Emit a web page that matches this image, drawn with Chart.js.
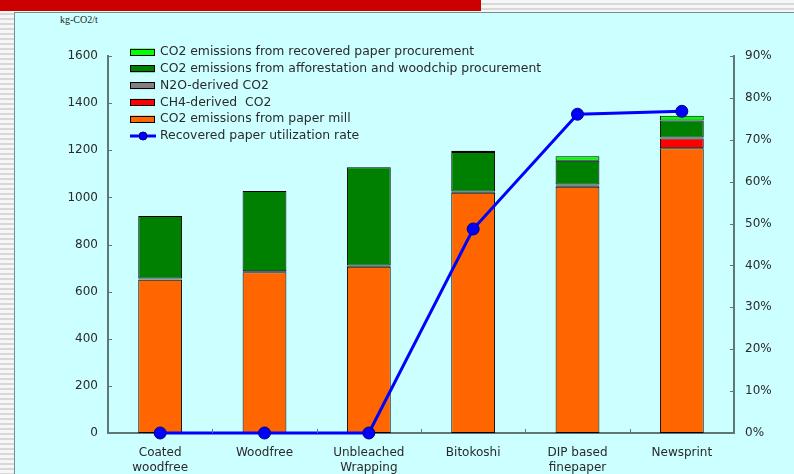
<!DOCTYPE html>
<html>
<head>
<meta charset="utf-8">
<script src="https://cdn.jsdelivr.net/npm/chart.js@4"></script>
<style>
  html, body { margin: 0; padding: 0; }
  body {
    width: 794px; height: 474px; position: relative; overflow: hidden;
    background: repeating-linear-gradient(to bottom, #f6f6f6 0px, #f6f6f6 3px, #d8d8d8 3px, #d8d8d8 5px);
  }
  #topbar { position: absolute; left: 0; top: 0; width: 481px; height: 11px; background: #cc0000; }
  #panel {
    position: absolute; left: 14px; top: 12px; right: 0; bottom: 0;
    background: #ccffff; border-left: 1px solid #7a8c8c; border-top: 1px solid #7a8c8c;
  }
  #unit {
    position: absolute; left: 60px; top: 14px;
    font-family: "Liberation Serif", "DejaVu Serif", serif; font-size: 10px; color: #222;
  }
  #wrap { position: absolute; left: 0; top: 0; width: 794px; height: 474px; }
</style>
</head>
<body>
<div id="topbar"></div>
<div id="panel"></div>
<div id="unit">kg-CO2/t</div>
<div id="wrap"><canvas id="chart" width="794" height="474"></canvas></div>
<script>
// Paper grades on the category axis
const categories = [['Coated', 'woodfree'], 'Woodfree', ['Unbleached', 'Wrapping'], 'Bitokoshi', ['DIP based', 'finepaper'], 'Newsprint'];

// Emission components, kg-CO2 per tonne of paper
const paperMill = [650, 682, 706, 1020, 1045, 1208];
const ch4Derived = [2, 0, 0, 0, 5, 42];
const n2oDerived = [4, 4, 5, 5, 5, 4];
const afforestation = [265, 341, 417, 168, 100, 72];
const recoveredPaper = [0, 0, 0, 5, 20, 20];

// Recovered paper utilization rate, %
const utilizationRate = [0, 0, 0, 48.7, 76.1, 76.8];

// Axis ticks
const emissionTicks = [0, 200, 400, 600, 800, 1000, 1200, 1400, 1600];
const rateTicks = [0, 10, 20, 30, 40, 50, 60, 70, 80, 90];

const AXIS_COLOR = '#5f7676';
const TEXT_COLOR = '#2a2a2a';
const FONT = '"DejaVu Sans", Verdana, sans-serif';

function barSet(label, data, color) {
  return {
    type: 'bar', label, data, backgroundColor: color,
    borderColor: '#000', borderWidth: 1, borderSkipped: false, yAxisID: 'y', stack: 'total',
    barPercentage: 0.42, categoryPercentage: 1, order: 1
  };
}

const datasets = [
  barSet('CO2 emissions from paper mill', paperMill, '#ff6600'),
  barSet('CH4-derived  CO2', ch4Derived, '#ff0000'),
  barSet('N2O-derived CO2', n2oDerived, '#808080'),
  barSet('CO2 emissions from afforestation and woodchip procurement', afforestation, '#008000'),
  barSet('CO2 emissions from recovered paper procurement', recoveredPaper, '#00ff00'),
  {
    type: 'line', label: 'Recovered paper utilization rate', data: utilizationRate,
    yAxisID: 'y1', borderColor: '#0000ff', borderWidth: 3,
    pointRadius: 6, pointBackgroundColor: '#0000ff', pointBorderColor: '#000080', pointBorderWidth: 1,
    tension: 0, clip: false, order: 0
  }
];

// Short tick marks pointing into the plot area
const innerTicks = {
  id: 'innerTicks',
  afterDatasetsDraw(chart) {
    const ctx = chart.ctx;
    const { y, y1, x } = chart.scales;
    const area = chart.chartArea;
    ctx.save();
    ctx.strokeStyle = AXIS_COLOR;
    ctx.lineWidth = 1;
    ctx.beginPath();
    emissionTicks.forEach(v => {
      const py = Math.round(y.getPixelForValue(v)) + 0.5;
      ctx.moveTo(area.left, py); ctx.lineTo(area.left + 4, py);
    });
    rateTicks.forEach(v => {
      const py = Math.round(y1.getPixelForValue(v)) + 0.5;
      ctx.moveTo(area.right, py); ctx.lineTo(area.right - 4, py);
    });
    for (let i = 1; i < categories.length; i++) {
      const px = Math.round((x.getPixelForTick(i - 1) + x.getPixelForTick(i)) / 2) + 0.5;
      ctx.moveTo(px, area.bottom); ctx.lineTo(px, area.bottom - 4);
    }
    ctx.stroke();
    ctx.restore();
  }
};

// Legend block in the upper left of the plot, listed top of stack first
const legendBlock = {
  id: 'legendBlock',
  afterDraw(chart) {
    const ctx = chart.ctx;
    const ds = chart.data.datasets;
    const orderList = [4, 3, 2, 1, 0, 5];
    const x0 = 130, y0 = 52, step = 16.8;
    ctx.save();
    ctx.font = '12.4px ' + FONT;
    ctx.textBaseline = 'middle';
    ctx.fillStyle = TEXT_COLOR;
    orderList.forEach((idx, row) => {
      const d = ds[idx];
      const cy = y0 + row * step;
      if (d.type === 'bar') {
        ctx.fillStyle = d.backgroundColor;
        ctx.fillRect(x0, cy - 3.5, 25, 7);
        ctx.strokeStyle = '#000';
        ctx.lineWidth = 1;
        ctx.strokeRect(x0 + 0.5, Math.round(cy - 3.5) + 0.5, 24, 6);
      } else {
        ctx.strokeStyle = d.borderColor;
        ctx.lineWidth = 3;
        ctx.beginPath();
        ctx.moveTo(x0, cy); ctx.lineTo(x0 + 26, cy);
        ctx.stroke();
        ctx.beginPath();
        ctx.arc(x0 + 13, cy, 4, 0, Math.PI * 2);
        ctx.fillStyle = d.pointBackgroundColor;
        ctx.fill();
        ctx.lineWidth = 1;
        ctx.strokeStyle = d.pointBorderColor;
        ctx.stroke();
      }
      ctx.fillStyle = TEXT_COLOR;
      ctx.fillText(d.label, x0 + 30, cy);
    });
    ctx.restore();
  }
};

new Chart(document.getElementById('chart'), {
  data: { labels: categories, datasets },
  options: {
    responsive: false,
    animation: false,
    layout: { padding: { top: 56, right: 0, bottom: 0, left: 0 } },
    plugins: { legend: { display: false }, tooltip: { enabled: false } },
    scales: {
      x: {
        offset: true,
        grid: { display: false, drawTicks: false },
        border: { display: true, color: AXIS_COLOR, width: 2 },
        ticks: { color: TEXT_COLOR, font: { family: FONT, size: 12 }, padding: 13, maxRotation: 0, autoSkip: false },
        afterFit(s) { s.height = 41; }
      },
      y: {
        position: 'left', min: 0, max: 1600, stacked: true,
        afterBuildTicks(s) { s.ticks = emissionTicks.map(v => ({ value: v })); },
        grid: { display: false, drawTicks: false },
        border: { display: true, color: AXIS_COLOR, width: 2 },
        ticks: { color: TEXT_COLOR, font: { family: FONT, size: 12 }, padding: 10, callback: v => String(v) },
        afterFit(s) { s.width = 108; }
      },
      y1: {
        position: 'right', min: 0, max: 90,
        afterBuildTicks(s) { s.ticks = rateTicks.map(v => ({ value: v })); },
        grid: { display: false, drawTicks: false },
        border: { display: true, color: AXIS_COLOR, width: 2 },
        ticks: { color: TEXT_COLOR, font: { family: FONT, size: 12 }, padding: 11, callback: v => v + '%' },
        afterFit(s) { s.width = 60; }
      }
    }
  },
  plugins: [innerTicks, legendBlock]
});
</script>
</body>
</html>
